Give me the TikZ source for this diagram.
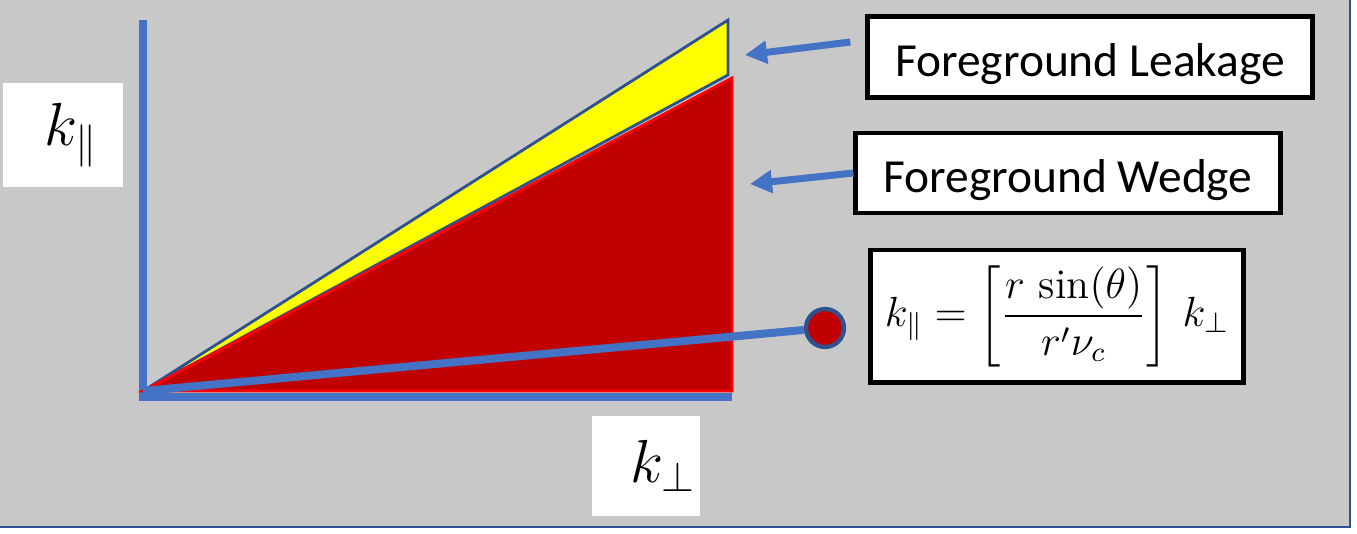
\documentclass[tikz,border=0pt]{standalone}
\usepackage{amsmath,amssymb}
\usepackage{fontspec}
\newfontfamily\calibri{Carlito}
\usepackage{tikz}
\usetikzlibrary{arrows.meta, calc, shapes.geometric}
\definecolor{bggray}{RGB}{200,200,200}
\definecolor{axisblue}{RGB}{68,114,196}
\definecolor{edgeblue}{RGB}{47,82,143}
\definecolor{wedgered}{RGB}{192,0,0}
\definecolor{leakyellow}{RGB}{255,255,0}
\tikzset{
  labelbox/.style={rectangle,draw=black,line width=1.4pt,fill=white,align=center,inner sep=0pt,font=\calibri\fontsize{13.5}{16}\selectfont},
  axislabel/.style={rectangle,fill=white,inner sep=0pt,font=\fontsize{17.28}{20}\selectfont},
  axisline/.style={draw=axisblue,line width=0.08cm},
  bluearr/.style={-{Triangle[length=0.22cm,width=0.22cm]},draw=axisblue,fill=axisblue,line width=0.07cm},
  dotnode/.style={circle,fill=wedgered,draw=edgeblue,line width=1.2pt,minimum size=0.38cm,inner sep=0pt}
}

\begin{document}
\begin{tikzpicture}[x=0.01cm,y=-0.01cm]
  \useasboundingbox (0,0) rectangle (1357,533);
  %% background panel
  \fill[bggray] (0,0) rectangle (1350,527);
  \draw[edgeblue,line width=0.7pt] (0,527) -- (1350,527) -- (1350,0);

  %% axes
  \coordinate (origin) at (143,391);
  \draw[axisline] (143,20) -- (143,401);
  \draw[axisline] (139,397) -- (732,397);

  %% leakage and wedge regions
  \filldraw[fill=leakyellow,draw=edgeblue,line width=0.8pt] (origin) -- (728,20) -- (728,75) -- cycle;
  \filldraw[fill=wedgered,draw=red,line width=0.8pt] (origin) -- (732,78) -- (732,391) -- cycle;

  %% axis labels
  \node[axislabel,minimum width=1.2cm,minimum height=1.04cm,text width=0.7cm,align=right] (kpar) at (63,135) {$k_{\parallel}$};
  \node[axislabel,minimum width=1.08cm,minimum height=1.0cm,text width=1.0cm,align=right] (kperp) at (646,466) {$k_{\perp}$};

  %% text boxes
  \node[labelbox,minimum width=4.44cm,minimum height=0.81cm,text height=11pt,text depth=0pt] (leak) at (1090,57) {Foreground Leakage};
  \node[labelbox,minimum width=4.24cm,minimum height=0.80cm,text height=11pt,text depth=0pt] (wedge) at (1068,173) {Foreground Wedge};
  \node[labelbox,minimum width=3.73cm,minimum height=1.32cm,font=\fontsize{12}{14}\selectfont] (formula) at (1057,316)
    {$k_{\parallel} = \left[\dfrac{r\,\sin(\theta)}{r'\nu_c}\right]\,k_{\perp}$};

  %% slope line to the dot
  \node[dotnode] (dot) at (825,328) {};
  \draw[axisline] (origin) -- (dot);

  %% pointers
  \coordinate (leaktip) at (745,55);
  \coordinate (wedgetip) at (750,184);
  \draw[bluearr] ($(leak.west)+(-15,-15)$) -- (leaktip);
  \draw[bluearr] (wedge.west) -- (wedgetip);
\end{tikzpicture}
\end{document}
